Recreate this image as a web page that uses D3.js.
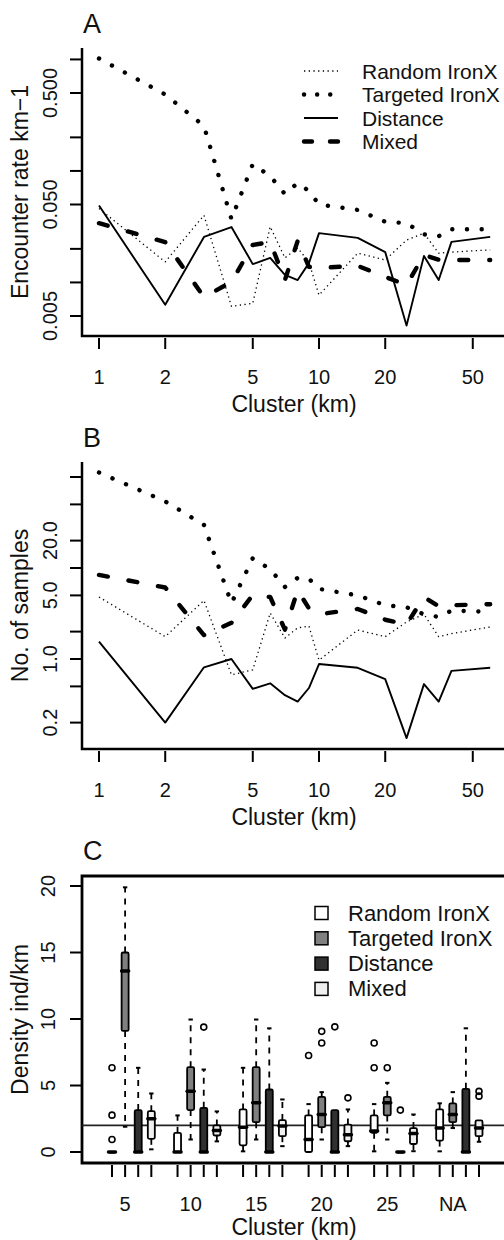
<!DOCTYPE html>
<html>
<head>
<meta charset="utf-8">
<script src="https://cdn.jsdelivr.net/npm/d3@7"></script>
<style>
  body { margin: 0; background: #fff; }
  svg { display: block; }
  text { font-family: "Liberation Sans", Arial, Helvetica, sans-serif; fill: #111; }
</style>
</head>
<body>
<div id="chart"></div>
<script>
// ---------------------------------------------------------------- data

// cluster sizes (km) used in panels A and B
const clusterKm = [1, 2, 3, 4, 5, 6, 7, 8, 9, 10, 15, 20, 25, 30, 35, 40, 60];

// panel A: encounter rate km-1
const rateRandom = [0.046, 0.0153, 0.040, 0.0061, 0.0065, 0.0316, 0.0166, 0.0204, 0.0152, 0.0077, 0.0183, 0.0159, 0.024, 0.0276, 0.0183, 0.0187, 0.0196];
const rateTargeted = [1.02, 0.485, 0.253, 0.037, 0.115, 0.090, 0.062, 0.078, 0.066, 0.050, 0.0447, 0.035, 0.034, 0.027, 0.026, 0.030, 0.030];
const rateDistance = [0.049, 0.0063, 0.0256, 0.0314, 0.0146, 0.0166, 0.0117, 0.0105, 0.0149, 0.0277, 0.0251, 0.0187, 0.0041, 0.0173, 0.0105, 0.0231, 0.0256];
const rateMixed = [0.034, 0.023, 0.0074, 0.0101, 0.0217, 0.023, 0.0105, 0.0236, 0.0138, 0.0135, 0.0141, 0.0112, 0.0095, 0.0176, 0.016, 0.0159, 0.0159];

// panel B: number of samples
const samplesRandom = [4.8, 1.76, 4.4, 0.67, 0.76, 3.2, 1.7, 2.2, 2.3, 0.97, 2.08, 1.76, 2.55, 3.1, 1.76, 1.9, 2.25];
const samplesTargeted = [112, 54, 29.7, 4.1, 12.8, 9.7, 6.2, 7.8, 7.6, 5.9, 5.0, 3.9, 3.7, 3.1, 2.9, 3.4, 3.3];
const samplesDistance = [1.55, 0.2, 0.81, 1.0, 0.47, 0.54, 0.40, 0.34, 0.48, 0.88, 0.80, 0.60, 0.135, 0.53, 0.34, 0.74, 0.80];
const samplesMixed = [8.4, 6.1, 1.83, 2.5, 5.05, 4.8, 2.1, 5.7, 3.6, 3.1, 3.55, 2.7, 2.4, 4.8, 3.8, 3.9, 4.0];

const methods = ['Random IronX', 'Targeted IronX', 'Distance', 'Mixed'];

// panel C: density boxplots, one entry per cluster group: [min, q1, median, q3, max]
const clusterGroups = ['5', '10', '15', '20', '25', 'NA'];
const boxRandom = [[0, 0, 0, 0, 0], [0, 0, 0, 1.44, 2.75], [0.05, 0.5, 1.87, 3.2, 6.33], [0, 0, 0.94, 2.75, 3.6], [0.05, 1.44, 1.57, 2.75, 3.6], [0.05, 0.86, 1.8, 3.2, 3.66]];
const boxTargeted = [[1.9, 9.1, 13.6, 15.0, 19.9], [0.94, 3.15, 4.57, 6.38, 9.96], [0.94, 2.24, 3.7, 6.38, 9.96], [0.94, 1.87, 2.82, 4.15, 4.5], [0.94, 2.75, 3.7, 4.15, 5.2], [1.8, 2.24, 2.82, 3.65, 4.5]];
const boxDistance = [[0, 0, 0, 3.15, 6.33], [0, 0, 0, 3.32, 6.2], [0, 0, 0, 4.7, 9.3], [0, 0, 0, 3.15, 3.15], [0, 0, 0, 0, 0], [0, 0, 0, 4.75, 9.3]];
const boxMixed = [[0.2, 0.99, 2.5, 3.07, 4.4], [0.8, 1.24, 1.62, 2.0, 3.05], [0.44, 1.19, 1.95, 2.4, 3.95], [0.44, 0.81, 1.3, 2.06, 3.2], [0.06, 0.6, 1.4, 1.8, 2.82], [0.77, 1.19, 1.8, 2.38, 2.38]];

const outRandom = [[0.94, 2.77, 6.33], [], [], [7.26], [6.33, 8.2], []];
const outTargeted = [[], [], [], [8.2, 9.07], [6.33], []];
const outDistance = [[], [9.39], [], [9.41], [3.15], []];
const outMixed = [[], [], [], [4.07], [], [4.2, 4.56]];

const refDensity = 2;

// ---------------------------------------------------------------- drawing

const width = 504;
const height = 1240;

const svg = d3.select('#chart')
  .append('svg')
  .attr('width', width)
  .attr('height', height);

// line styles for the four series
const styles = [
  { width: 1.3, dash: '1.3 3.4', cap: 'butt' },   // Random IronX
  { width: 4.4, dash: '0.1 14.6', cap: 'round' }, // Targeted IronX
  { width: 1.9, dash: null, cap: 'butt' },        // Distance
  { width: 4.4, dash: '9 21', cap: 'round' }      // Mixed
];

const axisLeft = 82;
const tickFS = 20;
const titleFS = 23;
const xLog = d3.scaleLog().domain([1, 60]).range([99, 99 + 220 * Math.log10(60)]);
const xTicks = [1, 2, 5, 10, 20, 50];

const drawLinePanel = (cfg) => {
  const g = svg.append('g');

  // panel letter
  g.append('text')
    .attr('x', 83).attr('y', cfg.top - 15)
    .attr('font-size', 27)
    .text(cfg.letter);

  // L shaped frame
  g.append('path')
    .attr('d', `M${axisLeft},${cfg.top}V${cfg.bottom}H${width}`)
    .attr('fill', 'none').attr('stroke', '#000').attr('stroke-width', 2.5);

  // y ticks
  g.selectAll('.ytick')
    .data(cfg.yTicks)
    .enter().append('line')
    .attr('x1', 70).attr('x2', axisLeft)
    .attr('y1', (d) => cfg.y(d)).attr('y2', (d) => cfg.y(d))
    .attr('stroke', '#000').attr('stroke-width', 2);

  g.selectAll('.ylab')
    .data(cfg.yLabels)
    .enter().append('text')
    .attr('transform', (d) => `translate(50,${cfg.y(d.v)}) rotate(-90)`)
    .attr('text-anchor', 'middle')
    .attr('dominant-baseline', 'central')
    .attr('font-size', tickFS)
    .text((d) => d.t);

  g.append('text')
    .attr('transform', `translate(20,${(cfg.top + cfg.bottom) / 2}) rotate(-90)`)
    .attr('text-anchor', 'middle')
    .attr('dominant-baseline', 'central')
    .attr('font-size', titleFS)
    .text(cfg.yTitle);

  // x ticks
  g.selectAll('.xtick')
    .data(xTicks)
    .enter().append('line')
    .attr('x1', (d) => xLog(d)).attr('x2', (d) => xLog(d))
    .attr('y1', cfg.bottom + 2).attr('y2', cfg.bottom + 13)
    .attr('stroke', '#000').attr('stroke-width', 2);

  g.selectAll('.xlab')
    .data(xTicks)
    .enter().append('text')
    .attr('x', (d) => xLog(d)).attr('y', cfg.bottom + 41)
    .attr('text-anchor', 'middle')
    .attr('dominant-baseline', 'central')
    .attr('font-size', tickFS)
    .text((d) => d);

  g.append('text')
    .attr('x', 294).attr('y', cfg.bottom + 68)
    .attr('text-anchor', 'middle')
    .attr('dominant-baseline', 'central')
    .attr('font-size', titleFS)
    .text('Cluster (km)');

  const line = d3.line()
    .x((d) => xLog(d[0]))
    .y((d) => cfg.y(d[1]));

  cfg.series.forEach((vals, i) => {
    const st = styles[i];
    g.append('path')
      .datum(clusterKm.map((k, j) => [k, vals[j]]))
      .attr('d', line)
      .attr('fill', 'none')
      .attr('stroke', '#000')
      .attr('stroke-width', st.width)
      .attr('stroke-linecap', st.cap)
      .attr('stroke-linejoin', 'round')
      .attr('stroke-dasharray', st.dash);
  });
};

// panel A
const yA = d3.scaleLog().domain([0.005, 0.5]).range([316, 93]);
drawLinePanel({
  letter: 'A',
  top: 48,
  bottom: 336,
  y: yA,
  yTicks: [0.005, 0.01, 0.02, 0.05, 0.1, 0.2, 0.5, 1],
  yLabels: [{ v: 0.005, t: '0.005' }, { v: 0.05, t: '0.050' }, { v: 0.5, t: '0.500' }],
  yTitle: 'Encounter rate km\u22121',
  series: [rateRandom, rateTargeted, rateDistance, rateMixed]
});

// legend A
const legA = svg.append('g');
methods.forEach((m, i) => {
  const yy = 71 + i * 23.5;
  const st = styles[i];
  legA.append('line')
    .attr('x1', 304).attr('x2', 338)
    .attr('y1', yy).attr('y2', yy)
    .attr('stroke', '#000')
    .attr('stroke-width', st.width)
    .attr('stroke-linecap', st.cap)
    .attr('stroke-dasharray', i === 1 ? '0.1 13' : i === 3 ? '8 18' : st.dash);
  legA.append('text')
    .attr('x', 362).attr('y', yy)
    .attr('dominant-baseline', 'central')
    .attr('font-size', 21)
    .text(m);
});

// panel B
const yB = d3.scaleLog().domain([1, 10]).range([659, 568]);
drawLinePanel({
  letter: 'B',
  top: 462,
  bottom: 749,
  y: yB,
  yTicks: [0.2, 0.5, 1, 2, 5, 10, 20, 50, 100],
  yLabels: [{ v: 0.2, t: '0.2' }, { v: 1, t: '1.0' }, { v: 5, t: '5.0' }, { v: 20, t: '20.0' }],
  yTitle: 'No. of samples',
  series: [samplesRandom, samplesTargeted, samplesDistance, samplesMixed]
});

// ---------------------------------------------------------------- panel C

const cTop = 876;
const cBottom = 1163;
const xC = d3.scaleLinear().domain([1, 29]).range([112, 479]);
const yC = d3.scaleLinear().domain([0, 20]).range([1152, 886]);
const boxFill = ['#ffffff', '#808080', '#303030', '#efefef'];
const boxW = 7;

const gC = svg.append('g');

gC.append('text')
  .attr('x', 83).attr('y', cTop - 16)
  .attr('font-size', 27)
  .text('C');

gC.append('path')
  .attr('d', `M${width},${cTop}H${axisLeft}V${cBottom}H${width}`)
  .attr('fill', 'none').attr('stroke', '#000').attr('stroke-width', 2.8);

const yTicksC = [0, 5, 10, 15, 20];
gC.selectAll('.ytick')
  .data(yTicksC)
  .enter().append('line')
  .attr('x1', 70).attr('x2', axisLeft)
  .attr('y1', (d) => yC(d)).attr('y2', (d) => yC(d))
  .attr('stroke', '#000').attr('stroke-width', 2);

gC.selectAll('.ylab')
  .data(yTicksC)
  .enter().append('text')
  .attr('transform', (d) => `translate(48,${yC(d)}) rotate(-90)`)
  .attr('text-anchor', 'middle')
  .attr('dominant-baseline', 'central')
  .attr('font-size', tickFS)
  .text((d) => d);

gC.append('text')
  .attr('transform', `translate(20,${(cTop + cBottom) / 2}) rotate(-90)`)
  .attr('text-anchor', 'middle')
  .attr('dominant-baseline', 'central')
  .attr('font-size', titleFS)
  .text('Density ind/km');

// slot positions: 4 methods per group, one empty slot between groups
const slots = [];
clusterGroups.forEach((grp, gi) => {
  methods.forEach((m, mi) => slots.push({ gi, mi, pos: gi * 5 + mi + 1 }));
});

gC.selectAll('.xtick')
  .data(slots)
  .enter().append('line')
  .attr('x1', (d) => xC(d.pos)).attr('x2', (d) => xC(d.pos))
  .attr('y1', cBottom + 2).attr('y2', cBottom + 14)
  .attr('stroke', '#000').attr('stroke-width', 2);

gC.selectAll('.xlab')
  .data(clusterGroups)
  .enter().append('text')
  .attr('x', (d, i) => xC(i * 5 + 2)).attr('y', 1204)
  .attr('text-anchor', 'middle')
  .attr('dominant-baseline', 'central')
  .attr('font-size', tickFS)
  .text((d) => d);

gC.append('text')
  .attr('x', 294).attr('y', 1227)
  .attr('text-anchor', 'middle')
  .attr('dominant-baseline', 'central')
  .attr('font-size', titleFS)
  .text('Cluster (km)');

// reference line
gC.append('line')
  .attr('x1', axisLeft).attr('x2', width)
  .attr('y1', yC(refDensity)).attr('y2', yC(refDensity))
  .attr('stroke', '#222').attr('stroke-width', 1.6);

const boxStats = [boxRandom, boxTargeted, boxDistance, boxMixed];
const outStats = [outRandom, outTargeted, outDistance, outMixed];

slots.forEach((s) => {
  const [mn, q1, md, q3, mx] = boxStats[s.mi][s.gi];
  const cx = xC(s.pos);
  const b = gC.append('g');

  // whiskers
  [[q3, mx], [q1, mn]].forEach(([from, to]) => {
    if (Math.abs(to - from) < 0.01) return;
    b.append('line')
      .attr('x1', cx).attr('x2', cx)
      .attr('y1', yC(from)).attr('y2', yC(to))
      .attr('stroke', '#000').attr('stroke-width', 1.8)
      .attr('stroke-dasharray', '6 6');
    b.append('line')
      .attr('x1', cx - 2.2).attr('x2', cx + 2.2)
      .attr('y1', yC(to)).attr('y2', yC(to))
      .attr('stroke', '#000').attr('stroke-width', 2);
  });

  // box
  b.append('rect')
    .attr('x', cx - boxW / 2)
    .attr('y', yC(q3))
    .attr('width', boxW)
    .attr('height', Math.max(yC(q1) - yC(q3), 0.5))
    .attr('rx', 1.5)
    .attr('fill', boxFill[s.mi])
    .attr('stroke', '#000').attr('stroke-width', 1.8);

  // median
  b.append('line')
    .attr('x1', cx - boxW / 2).attr('x2', cx + boxW / 2)
    .attr('y1', yC(md)).attr('y2', yC(md))
    .attr('stroke', '#000').attr('stroke-width', 3.5)
    .attr('stroke-linecap', 'round');

  // outliers
  b.selectAll('circle')
    .data(outStats[s.mi][s.gi])
    .enter().append('circle')
    .attr('cx', cx).attr('cy', (d) => yC(d))
    .attr('r', 3)
    .attr('fill', 'none')
    .attr('stroke', '#000').attr('stroke-width', 1.6);
});

// legend C
const legC = gC.append('g');
methods.forEach((m, i) => {
  const yy = 913 + i * 25.3;
  legC.append('rect')
    .attr('x', 315).attr('y', yy - 6.5)
    .attr('width', 13).attr('height', 13)
    .attr('fill', boxFill[i])
    .attr('stroke', '#000').attr('stroke-width', 1.5);
  legC.append('text')
    .attr('x', 348).attr('y', yy)
    .attr('dominant-baseline', 'central')
    .attr('font-size', 22)
    .text(m);
});
</script>
</body>
</html>
